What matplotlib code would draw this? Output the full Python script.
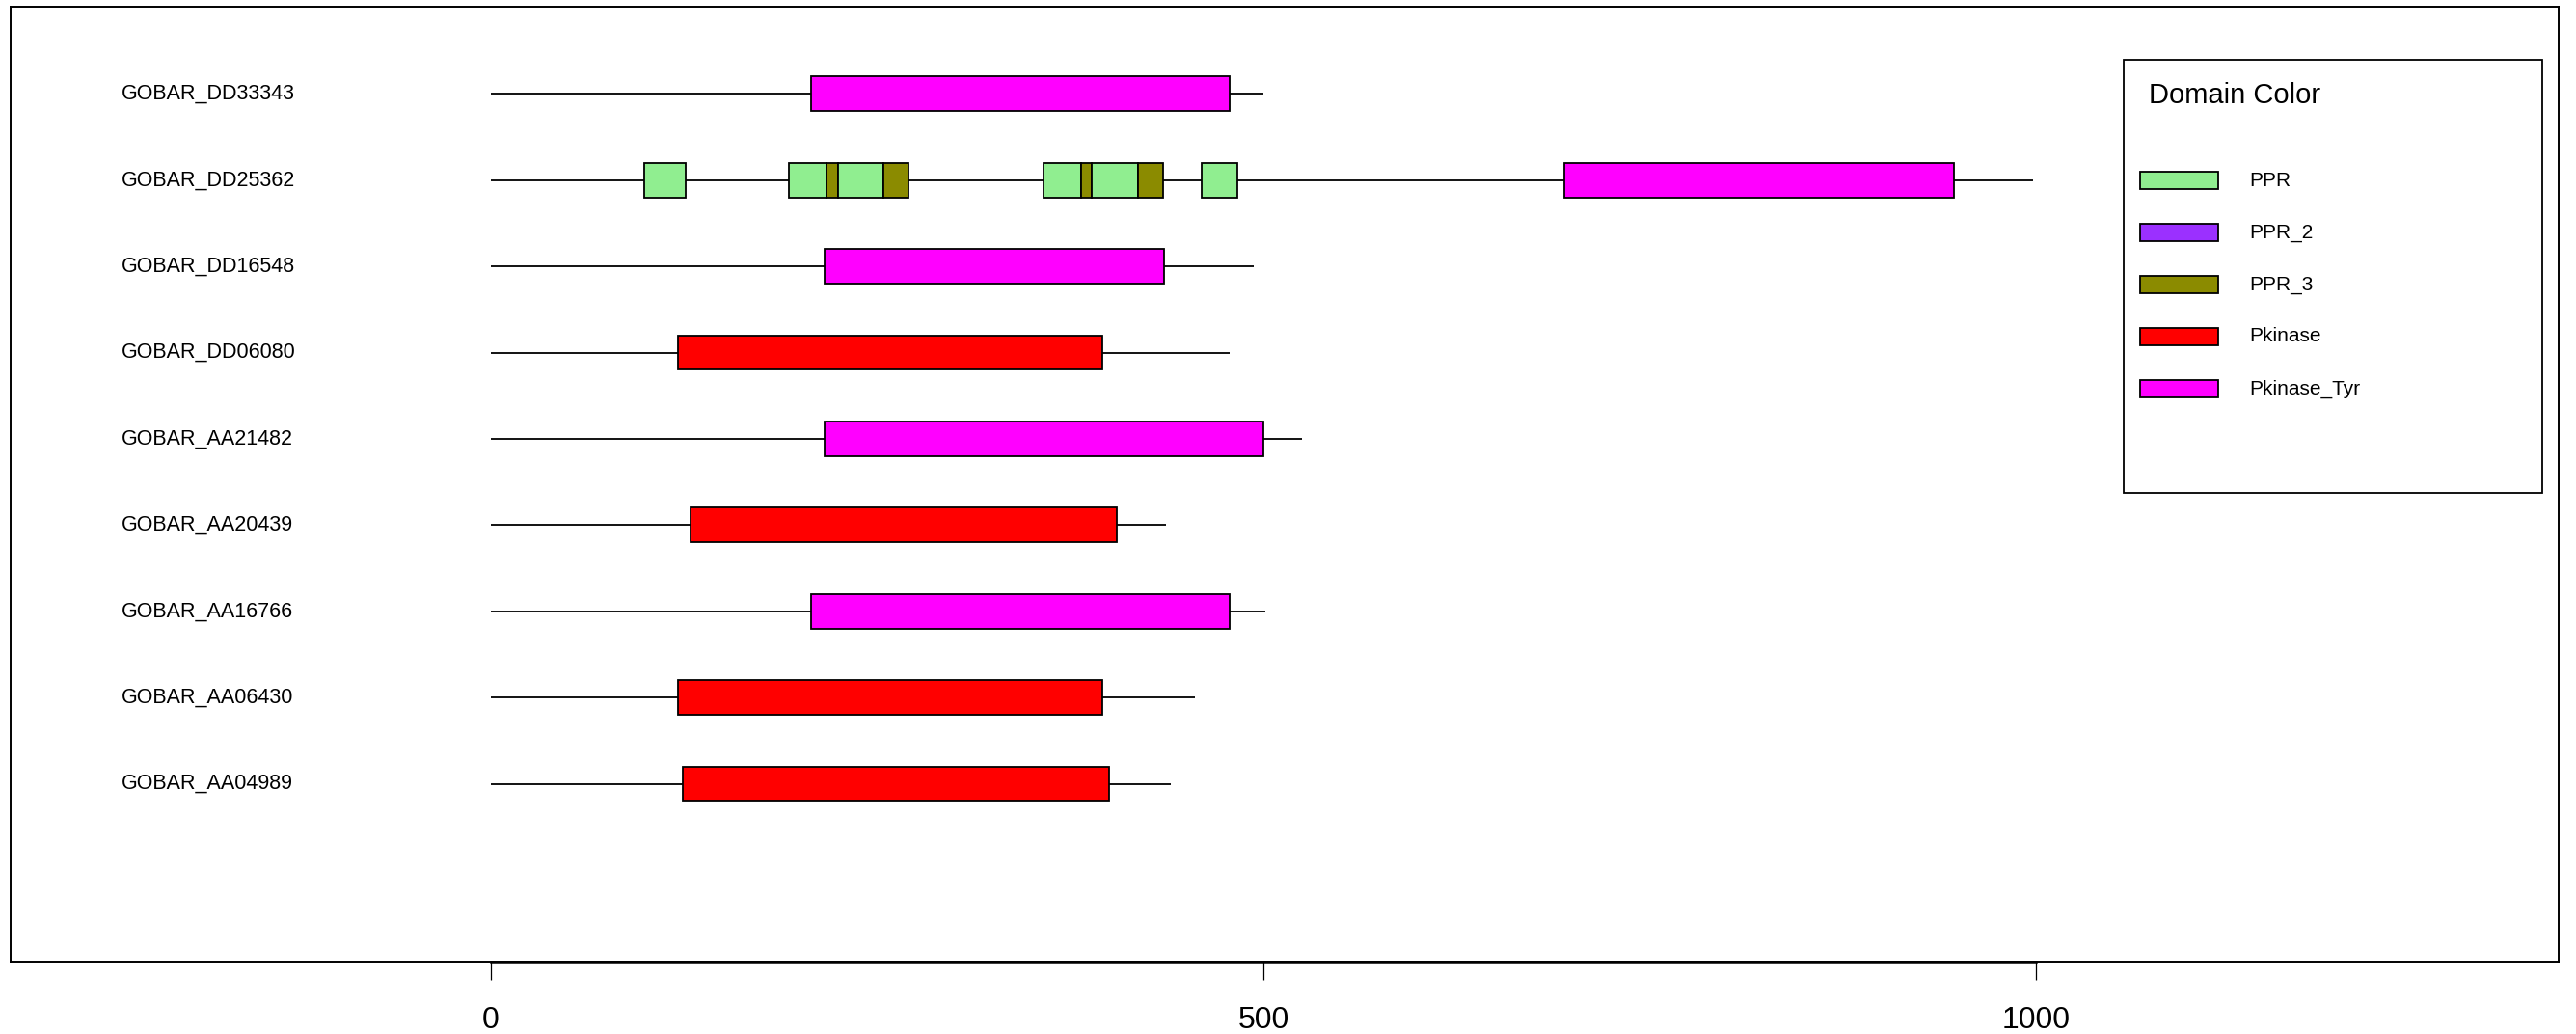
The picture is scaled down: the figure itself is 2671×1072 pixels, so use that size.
import matplotlib
matplotlib.use("Agg")
import matplotlib.pyplot as plt
from matplotlib.patches import Rectangle

plt.rcParams['font.family'] = ['Liberation Sans', 'DejaVu Sans']

# ---- data ----
genes = ["GOBAR_DD33343", "GOBAR_DD25362", "GOBAR_DD16548", "GOBAR_DD06080",
         "GOBAR_AA21482", "GOBAR_AA20439", "GOBAR_AA16766", "GOBAR_AA06430",
         "GOBAR_AA04989"]
lengths = [500, 998, 494, 478, 525, 437, 501, 456, 440]

dom_gene = ["GOBAR_DD33343",
            "GOBAR_DD25362", "GOBAR_DD25362", "GOBAR_DD25362", "GOBAR_DD25362",
            "GOBAR_DD25362", "GOBAR_DD25362", "GOBAR_DD25362", "GOBAR_DD25362",
            "GOBAR_DD25362", "GOBAR_DD25362", "GOBAR_DD25362",
            "GOBAR_DD16548", "GOBAR_DD06080", "GOBAR_AA21482", "GOBAR_AA20439",
            "GOBAR_AA16766", "GOBAR_AA06430", "GOBAR_AA04989"]
dom_start = [207,
             99, 193, 217, 225, 254, 358, 382, 389, 419, 460, 695,
             216, 121, 216, 129, 207, 121, 124]
dom_end = [478,
           126, 217, 225, 254, 270, 382, 389, 419, 435, 483, 947,
           436, 396, 500, 405, 478, 396, 400]
dom_name = ["Pkinase_Tyr",
            "PPR", "PPR", "PPR_3", "PPR", "PPR_3", "PPR", "PPR_3", "PPR", "PPR_3", "PPR", "Pkinase_Tyr",
            "Pkinase_Tyr", "Pkinase", "Pkinase_Tyr", "Pkinase", "Pkinase_Tyr", "Pkinase", "Pkinase"]

legend_names = ["PPR", "PPR_2", "PPR_3", "Pkinase", "Pkinase_Tyr"]
legend_colors = ["#90EE90", "#9B30FF", "#8B8B00", "#FF0000", "#FF00FF"]
color_map = dict(zip(legend_names, legend_colors))

xticks = [0, 500, 1000]

# ---- figure ----
fig = plt.figure(figsize=(26.71, 10.72), dpi=100)
ax = fig.add_axes([0.0043, 0.0702, 0.98885, 0.92327])
ymin, ymax = -1.06, 10.01
ax.set_xlim(-310.5, 1338.1)
ax.set_ylim(ymin, ymax)

n = len(genes)
ypos = {g: n - i for i, g in enumerate(genes)}

for g, L in zip(genes, lengths):
    y = ypos[g]
    ax.plot([0, L], [y, y], color="black", lw=1.3, zorder=1, solid_capstyle="butt")
    ax.text(-239.4, y, g, ha="left", va="center", fontsize=15.5)

h = 0.2
for g, s, e, nm in zip(dom_gene, dom_start, dom_end, dom_name):
    y = ypos[g]
    ax.add_patch(Rectangle((s, y - h), e - s, 2 * h, facecolor=color_map[nm],
                           edgecolor="black", lw=1.3, zorder=2))

# legend (drawn in data coordinates)
ax.add_patch(Rectangle((1057.0, 4.376), 1327.5 - 1057.0, 9.40 - 4.376,
                       facecolor="white", edgecolor="black", lw=1.3, zorder=3))
ax.text(1072.9, 8.98, "Domain Color", ha="left", va="center", fontsize=21, zorder=4)
ly0 = 7.994
for k, (nm, c) in enumerate(zip(legend_names, legend_colors)):
    yy = ly0 - 0.603 * k
    ax.add_patch(Rectangle((1067.1, yy - 0.102), 1117.7 - 1067.1, 0.204,
                           facecolor=c, edgecolor="black", lw=1.3, zorder=4))
    ax.text(1137.8, yy, nm, ha="left", va="center", fontsize=15, zorder=4)

# axes styling
for sp in ax.spines.values():
    sp.set_linewidth(1.4)
ax.set_yticks([])
ax.set_xticks(xticks)
ax.set_xticklabels([str(t) for t in xticks], fontsize=23)
ax.tick_params(axis="x", direction="out", length=14, width=0.9, pad=19)
ax.plot([xticks[0], xticks[-1]], [ymin, ymin], color="black", lw=1.8,
        clip_on=False, zorder=5)

fig.savefig("out.png", dpi=100)
